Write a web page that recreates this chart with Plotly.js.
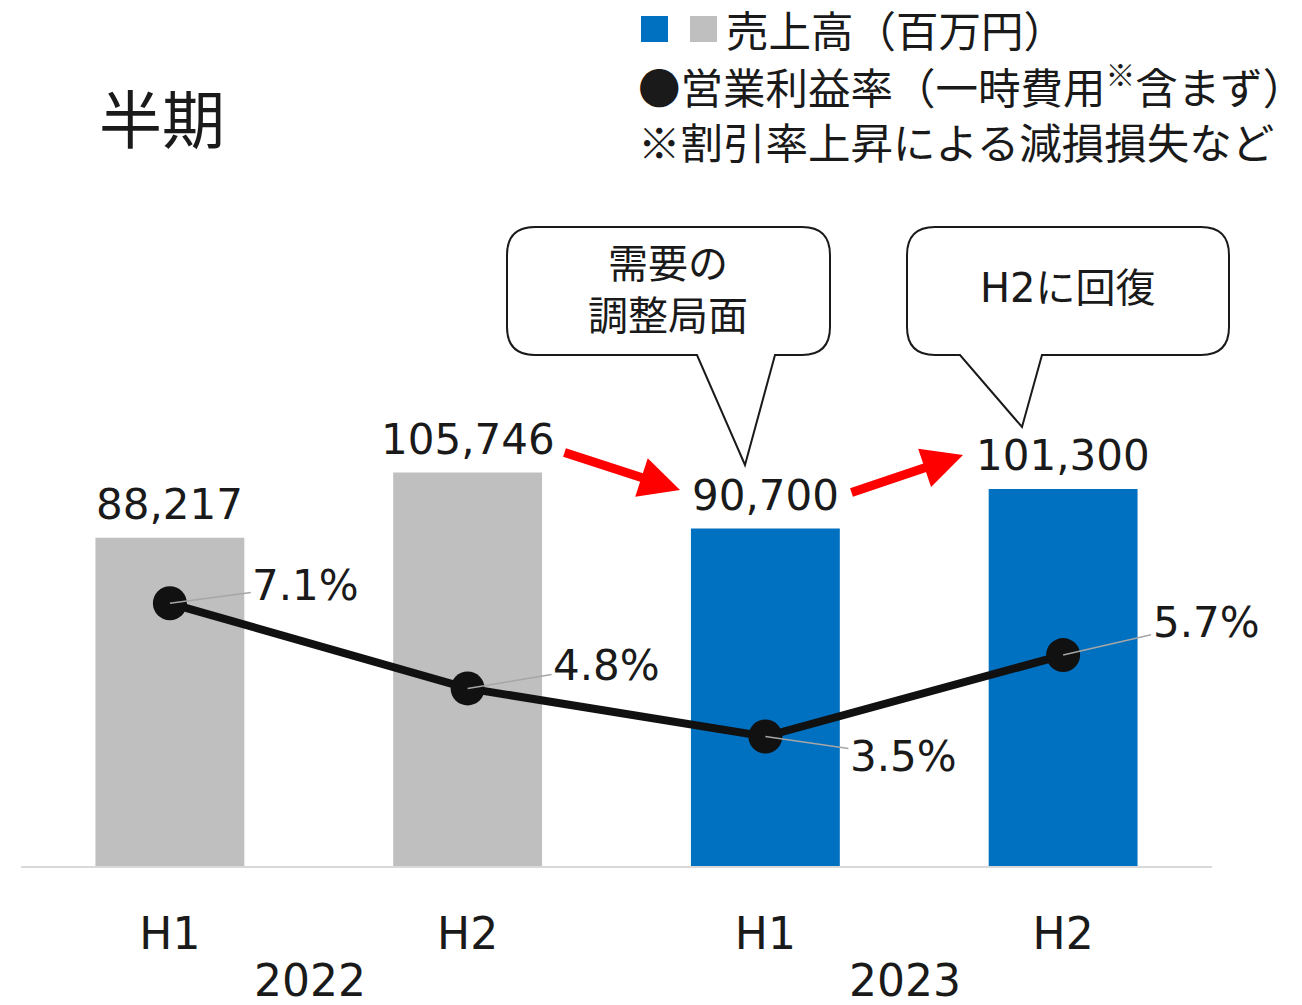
<!DOCTYPE html>
<html>
<head>
<meta charset="utf-8">
<script src="https://cdn.plot.ly/plotly-3.0.1.min.js"></script>
<style>body{margin:0;background:#fff}</style>
</head>
<body>
<div id="chart" style="width:1302px;height:1005px"></div>
<script>
// half-year data
const halves = ['H1', 'H2', 'H1', 'H2'];
const periodYear = ['2022', '2022', '2023', '2023'];
const years = ['2022', '2023'];
const sales = [88217, 105746, 90700, 101300];      // 売上高（百万円）
const opMargin = [7.1, 4.8, 3.5, 5.7];             // 営業利益率 %

const yearColor = { '2022': '#BFBFBF', '2023': '#0070C0' };
const ink = '#1a1a1a';
const fontNum = '"DejaVu Sans", "Noto Sans CJK JP", sans-serif';
const fontJP = '"Noto Sans CJK JP", sans-serif';

// plot box in pixels
const W = 1302, H = 1005;
const M = { l: 21, r: 90, t: 200, b: 139 };
const plotW = W - M.l - M.r, plotH = H - M.t - M.b;
const px = x => (x - M.l) / plotW;
const py = y => (H - M.b - y) / plotH;
const P = (x, y) => `${px(x)},${py(y)}`;

const idx = halves.map((_, i) => i);

const salesTrace = {
    x: idx,
    y: sales,
    type: 'bar',
    marker: { color: periodYear.map(y => yearColor[y]) },
    hoverinfo: 'skip'
};

const marginTrace = {
    x: idx,
    y: opMargin,
    yaxis: 'y2',
    type: 'scatter',
    mode: 'lines+markers',
    line: { color: '#111111', width: 8 },
    marker: { color: '#111111', size: 34 },
    hoverinfo: 'skip'
};

// speech bubble outline with a tail on the bottom edge
function bubble(x0, y0, x1, y1, r, tl, tip, tr) {
    return {
        type: 'path', xref: 'paper', yref: 'paper',
        path: `M ${P(x0 + r, y0)} L ${P(x1 - r, y0)} Q ${P(x1, y0)} ${P(x1, y0 + r)} ` +
              `L ${P(x1, y1 - r)} Q ${P(x1, y1)} ${P(x1 - r, y1)} L ${P(tr, y1)} ` +
              `L ${P(tip[0], tip[1])} L ${P(tl, y1)} L ${P(x0 + r, y1)} ` +
              `Q ${P(x0, y1)} ${P(x0, y1 - r)} L ${P(x0, y0 + r)} Q ${P(x0, y0)} ${P(x0 + r, y0)} Z`,
        line: { color: ink, width: 2 },
        fillcolor: '#ffffff',
        layer: 'above'
    };
}

const shapes = [
    bubble(507, 227, 830, 355, 28, 697, [745, 465], 775),
    bubble(907, 227, 1229, 355, 28, 960, [1022, 427], 1042),
    // legend swatches
    { type: 'rect', xref: 'paper', yref: 'paper', x0: px(641), x1: px(668), y0: py(42), y1: py(16),
      fillcolor: yearColor['2023'], line: { width: 0 } },
    { type: 'rect', xref: 'paper', yref: 'paper', x0: px(690), x1: px(717), y0: py(42), y1: py(16),
      fillcolor: yearColor['2022'], line: { width: 0 } }
];

const annotations = [];

// bar value labels
sales.forEach((v, i) => {
    annotations.push({
        x: i, y: v, xref: 'x', yref: 'y',
        text: v.toLocaleString('en-US'),
        showarrow: false, xanchor: 'center', yanchor: 'bottom', yshift: 7,
        font: { family: fontNum, size: 42, color: ink }
    });
});

// margin labels with grey leader lines
const leader = [[136, -18], [139, -23], [138, 20], [143, -33]];
opMargin.forEach((v, i) => {
    annotations.push({
        x: i, y: v, xref: 'x', yref: 'y2',
        text: v.toFixed(1) + '%',
        showarrow: true, arrowhead: 0, arrowwidth: 1.5, arrowcolor: '#A6A6A6',
        ax: leader[i][0], ay: leader[i][1],
        font: { family: fontNum, size: 42, color: ink }
    });
});

// year labels under the half-year ticks
years.forEach((y, k) => {
    annotations.push({
        x: 2 * k + 0.47, y: py(980), xref: 'x', yref: 'paper',
        text: y, showarrow: false, xanchor: 'center', yanchor: 'middle',
        font: { family: fontNum, size: 44, color: ink }
    });
});

// red trend arrows
annotations.push(
    { x: px(680), y: py(490), xref: 'paper', yref: 'paper', text: '', showarrow: true,
      ax: -117, ay: -38, arrowhead: 2, arrowsize: 0.9, arrowwidth: 9, arrowcolor: '#FF0000' },
    { x: px(963), y: py(455), xref: 'paper', yref: 'paper', text: '', showarrow: true,
      ax: -113, ay: 38, arrowhead: 2, arrowsize: 0.9, arrowwidth: 9, arrowcolor: '#FF0000' }
);

// bubble texts
annotations.push(
    { x: px(668), y: py(287), xref: 'paper', yref: 'paper', showarrow: false,
      xanchor: 'center', yanchor: 'middle',
      text: '需要の<br>調整局面', font: { family: fontJP, size: 40, color: ink } },
    { x: px(1068), y: py(288), xref: 'paper', yref: 'paper', showarrow: false,
      xanchor: 'center', yanchor: 'middle',
      text: 'H2に回復', font: { family: fontNum, size: 40, color: ink } }
);

// title and legend text
annotations.push(
    { x: px(97), y: py(115), xref: 'paper', yref: 'paper', showarrow: false,
      xanchor: 'left', yanchor: 'middle', text: '半期',
      font: { family: fontJP, size: 63, color: ink } },
    { x: px(724), y: py(28), xref: 'paper', yref: 'paper', showarrow: false,
      xanchor: 'left', yanchor: 'middle', text: '売上高（百万円）',
      font: { family: fontJP, size: 42.5, color: ink } },
    { x: px(636), y: py(84), xref: 'paper', yref: 'paper', showarrow: false,
      xanchor: 'left', yanchor: 'middle', text: '●営業利益率（一時費用<sup>※</sup>含まず）',
      font: { family: fontJP, size: 42.5, color: ink } },
    { x: px(636), y: py(141), xref: 'paper', yref: 'paper', showarrow: false,
      xanchor: 'left', yanchor: 'middle', text: '※割引率上昇による減損損失など',
      font: { family: fontJP, size: 42.5, color: ink } }
);

const layout = {
    width: W,
    height: H,
    margin: M,
    paper_bgcolor: '#ffffff',
    plot_bgcolor: '#ffffff',
    showlegend: false,
    bargap: 0.5,
    xaxis: {
        range: [-0.5, 3.5],
        tickvals: idx,
        ticktext: halves,
        showgrid: false,
        zeroline: false,
        showline: true,
        linecolor: '#D9D9D9',
        linewidth: 2,
        ticks: '',
        ticklabelstandoff: 28,
        tickfont: { family: fontNum, size: 44, color: ink },
        fixedrange: true
    },
    yaxis: {
        range: [0, 179000],
        visible: false,
        fixedrange: true
    },
    yaxis2: {
        range: [0, 18],
        overlaying: 'y',
        visible: false,
        fixedrange: true
    },
    shapes: shapes,
    annotations: annotations
};

Plotly.newPlot('chart', [salesTrace, marginTrace], layout, { displayModeBar: false, staticPlot: true });
</script>
</body>
</html>
